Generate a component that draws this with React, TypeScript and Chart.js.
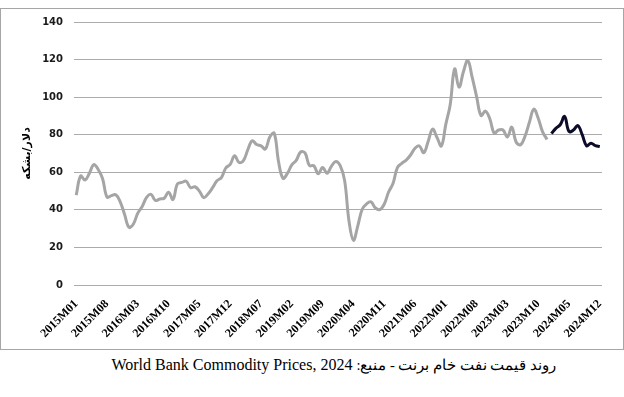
import React, { useEffect, useRef } from "react";
import { Chart, registerables } from "chart.js";

Chart.register(...registerables);

// ---- Data ----
const YEARS = [2015, 2016, 2017, 2018, 2019, 2020, 2021, 2022, 2023, 2024];
const MONTHS = ["01", "02", "03", "04", "05", "06", "07", "08", "09", "10", "11", "12"];
const CATEGORIES = YEARS.flatMap((y) => MONTHS.map((m) => `${y}M${m}`));

// Brent, 2015M01 – 2023M12 (grey line)
const PRICES_2015_2023 = [
  // 2015
  47.8, 58.0, 55.9, 59.5, 64.1, 61.5, 56.6, 46.8, 47.6, 48.0, 44.3, 37.5,
  // 2016
  30.7, 32.5, 38.3, 41.8, 46.7, 48.2, 45.0, 45.8, 46.2, 49.4, 45.5, 53.8,
  // 2017
  54.6, 55.2, 51.8, 52.3, 50.0, 46.5, 48.6, 51.8, 55.5, 57.2, 62.3, 64.2,
  // 2018
  68.8, 65.2, 66.2, 72.0, 76.8, 74.8, 74.1, 72.4, 78.8, 80.8, 65.5, 56.8,
  // 2019
  59.4, 63.9, 66.3, 70.8, 70.3, 63.6, 63.5, 59.2, 62.5, 59.5, 63.2, 65.8,
  // 2020
  63.5, 55.7, 34.0, 23.8, 31.5, 40.3, 43.2, 44.3, 41.0, 40.1, 43.0, 49.5,
  // 2021
  54.0, 62.5, 64.8, 66.5, 69.2, 72.8, 74.0, 70.4, 76.5, 83.0, 78.5, 74.0,
  // 2022
  85.5, 96.0, 115.0, 105.3, 113.5, 119.5, 110.5, 100.3, 90.2, 92.6, 88.5, 80.8,
  // 2023
  82.5, 82.5, 78.8, 84.0, 76.0, 74.7, 79.2, 86.6, 93.6, 88.8, 81.5, 77.5,
];

// Brent, 2024M01 – 2024M12 (dark line)
const PRICES_2024 = [80.6, 83.4, 85.3, 89.7, 81.7, 82.5, 84.9, 80.0, 74.1, 75.5, 74.2, 73.7];

const Y_TICKS = [0, 20, 40, 60, 80, 100, 120, 140];
const LABEL_EVERY = 7;
const Y_AXIS_TITLE = "دلار/بشکه";
const CAPTION_FA = "روند قیمت نفت خام برنت - منبع:";
const CAPTION_EN = "World Bank Commodity Prices, 2024";

export default function App() {
  const canvasRef = useRef<HTMLCanvasElement | null>(null);

  useEffect(() => {
    document.body.style.margin = "0";
    const canvas = canvasRef.current;
    if (!canvas) return;

    const greyData = [...PRICES_2015_2023, ...PRICES_2024.map(() => null)];
    const darkData = [...PRICES_2015_2023.map(() => null), ...PRICES_2024];

    const chart = new Chart(canvas, {
      type: "line",
      data: {
        labels: CATEGORIES,
        datasets: [
          {
            data: greyData as any,
            borderColor: "#A5A5A5",
            borderWidth: 3,
            pointRadius: 0,
            tension: 0.4,
            fill: false,
          },
          {
            data: darkData as any,
            borderColor: "#0C0C2A",
            borderWidth: 3,
            pointRadius: 0,
            tension: 0.4,
            fill: false,
          },
        ],
      },
      options: {
        animation: false,
        responsive: false,
        maintainAspectRatio: false,
        layout: { padding: { left: 12, right: 21, top: 13, bottom: 0 } },
        plugins: {
          legend: { display: false },
          tooltip: { enabled: false },
        },
        scales: {
          x: {
            type: "category",
            offset: true,
            grid: { display: false, drawTicks: false },
            border: { display: false },
            afterFit: (scale: any) => {
              scale.height = 64;
              scale.paddingLeft = 0;
              scale.paddingRight = 0;
            },
            ticks: {
              autoSkip: false,
              maxRotation: 45,
              minRotation: 45,
              padding: 12,
              color: "#000000",
              font: { family: "'Liberation Serif', serif", weight: "bold", size: 12 },
              callback: (_v: any, i: number) => (i % LABEL_EVERY === 0 ? CATEGORIES[i] : ""),
            },
          },
          y: {
            min: Y_TICKS[0],
            max: Y_TICKS[Y_TICKS.length - 1],
            grid: { color: "#ABABAB", lineWidth: 1, drawTicks: false },
            border: { display: false },
            afterFit: (scale: any) => {
              scale.width = 61;
              scale.paddingTop = 0;
              scale.paddingBottom = 0;
            },
            ticks: {
              stepSize: 20,
              padding: 11,
              color: "#1A1A1A",
              font: { family: "'DejaVu Sans', sans-serif", weight: "bold", size: 10 },
            },
            title: {
              display: true,
              text: Y_AXIS_TITLE,
              color: "#000000",
              padding: { top: 8, bottom: 8 },
              font: { family: "'DejaVu Sans', sans-serif", weight: "bold", size: 11 },
            },
          },
        },
      },
    });

    return () => chart.destroy();
  }, []);

  return (
    <div style={{ position: "relative", width: 624, height: 397, background: "#ffffff" }}>
      <div
        style={{
          position: "absolute",
          left: 0,
          top: 8,
          width: 622,
          height: 340,
          border: "1px solid #A6A6A6",
        }}
      >
        <canvas ref={canvasRef} width={622} height={340} style={{ display: "block" }} />
      </div>
      <div
        dir="rtl"
        style={{
          position: "absolute",
          right: 68,
          top: 355,
          lineHeight: "20px",
          fontSize: 16,
          fontFamily: "'Liberation Serif', serif",
          color: "#000000",
          whiteSpace: "nowrap",
          textAlign: "right",
        }}
      >
        <span style={{ fontSize: 14.5 }}>{CAPTION_FA}</span> <span>{CAPTION_EN}</span>
      </div>
    </div>
  );
}
